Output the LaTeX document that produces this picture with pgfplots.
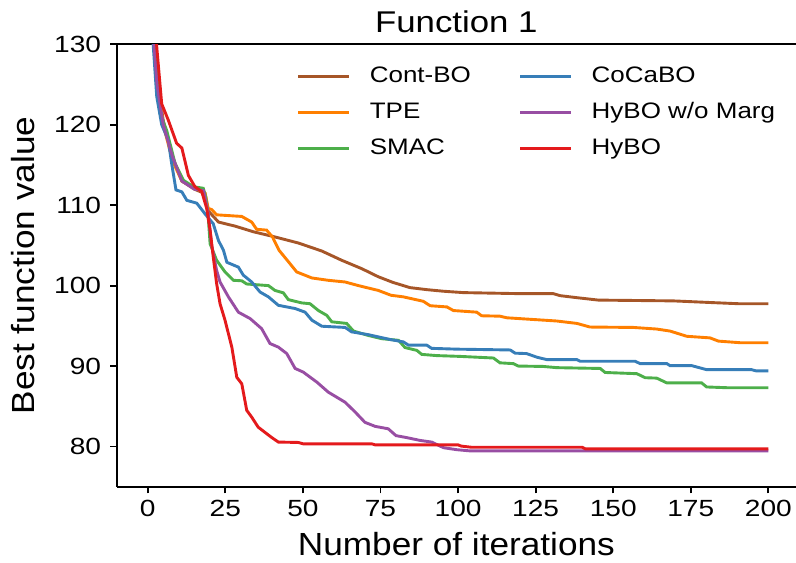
\documentclass[border=0pt]{standalone}
\usepackage{fontspec}
\setmainfont{Liberation Sans}[FakeStretch=1.16]
\newfontfamily\tickfont{Liberation Sans}[FakeStretch=1.2]
\newfontfamily\labelfont{Liberation Sans}[FakeStretch=1.1]
\usepackage{pgfplots}
\pgfplotsset{compat=1.18}
\definecolor{cbrown}{HTML}{A65628}
\definecolor{corange}{HTML}{FF7F00}
\definecolor{cgreen}{HTML}{4DAF4A}
\definecolor{cblue}{HTML}{377EB8}
\definecolor{cpurple}{HTML}{984EA3}
\definecolor{cred}{HTML}{E41A1C}

\begin{document}
\begin{tikzpicture}
\begin{axis}[
  scale only axis,
  width=339.65pt, height=221.2pt,
  xmin=-10, xmax=208.9,
  ymin=75, ymax=130,
  xtick={0,25,...,200},
  ytick={80,90,...,130},
  axis x line*=box, axis y line*=left,
  xtick pos=left, ytick pos=left,
  tick align=outside,
  major tick length=3.3pt,
  axis line style={line width=0.9pt},
  tick style={line width=0.9pt, black},
  /pgf/number format/assume math mode=true,
  ticklabel style={font=\tickfont\fontsize{11.7}{13}\selectfont},
  yticklabel style={xshift=-1pt},
  title={Function 1},
  title style={font=\fontsize{15}{17}\selectfont, at={(axis description cs:0.5,1)}, anchor=base, yshift=0.15pt},
  xlabel={Number of iterations},
  xlabel style={font=\labelfont\fontsize{16}{18}\selectfont, at={(axis description cs:0.5,0)}, anchor=base, yshift=-34.4pt},
  ylabel={Best function value},
  ylabel style={font=\labelfont\fontsize{16}{18}\selectfont, at={(axis description cs:-0.1372,0.5)}, anchor=center},
  every axis plot/.append style={line width=1.45pt},
  legend columns=2,
  legend cell align=left,
  legend image code/.code={\draw[#1] (0pt,0pt) -- (25.5pt,0pt);},
  legend style={draw=none, fill=none, inner sep=0pt,
    at={(axis description cs:0,1)}, anchor=north west, xshift=89.9pt, yshift=-9.85pt,
    font=\fontsize{11.2}{13}\selectfont, column sep=9.5pt, row sep=6pt,
    nodes={inner sep=0pt, text height=9pt, text depth=3pt}},
]
\addplot[cbrown, forget plot] coordinates {
(1,135) (3,126) (5,120.5) (8,116) (11,113) (15,112) (18,111.5) (19.5,109.3)
(22.8,107.9) (28.1,107.4) (34,106.7) (41,106.05) (48.5,105.3) (56.1,104.3)
(62.5,103.15) (69,102.1) (74.3,101.1) (79,100.4) (84.5,99.75) (89.9,99.5)
(95.3,99.3) (101.7,99.13) (120,99.0) (130.7,99.0) (132.9,98.75) (138.3,98.5)
(145.2,98.2) (169.4,98.1) (181.2,97.9) (190.3,97.75) (200,97.75)};
\addplot[corange, forget plot] coordinates {
(1,135) (3,126) (5,120) (8,115.5) (11,113) (15,112.2) (18.5,111.5) (19.5,109.6)
(20.6,109.46) (22.2,108.8) (30.3,108.6) (33.5,107.9) (35.1,107.0) (38.3,106.9)
(40.2,106.05) (42.3,104.4) (45.9,102.7) (48,101.7) (52.9,100.95) (58.2,100.66)
(63.6,100.45) (67.9,100.0) (74.3,99.4) (78.4,98.8) (82.4,98.6) (88.8,98.05)
(91,97.5) (96.4,97.35) (98.5,96.9) (106,96.7) (107.6,96.25) (113.5,96.2)
(115.7,96.0) (131.8,95.6) (138.3,95.3) (142.5,94.85) (156.5,94.8) (164,94.6)
(168.3,94.35) (173.7,93.7) (181.2,93.5) (183.9,93.1) (190.9,92.9) (200,92.9)};
\addplot[cgreen, forget plot] coordinates {
(1,134) (2.5,128) (4,121.4) (6.1,119.3) (8.8,115.2) (11.5,113.1) (14.7,112.3)
(17.9,112.1) (18.7,111.0) (19.5,108.5) (20.1,105.2) (22.2,103.15) (24.9,101.7)
(27.6,100.66) (30.3,100.6) (31.9,100.2) (38.9,100.0) (41,99.4) (43.7,99.1)
(45.3,98.26) (49.6,97.85) (52.3,97.75) (55,96.9) (57.7,96.3) (59.3,95.5)
(64.1,95.3) (66.3,94.35) (71.1,93.8) (75.4,93.4) (80.8,93.2) (82.9,92.3)
(86.7,91.95) (88.3,91.45) (93.1,91.3) (100.6,91.2) (111.4,91.0) (113.5,90.4)
(117.8,90.3) (119.4,90.0) (127.5,89.95) (131.8,89.8) (145.8,89.7) (147.4,89.2)
(157.6,89.05) (160.3,88.55) (164,88.5) (167.3,87.9) (178.5,87.9) (180.1,87.4)
(187.1,87.3) (200,87.3)};
\addplot[cblue, forget plot] coordinates {
(1,134) (1.8,129.7) (2.9,123.5) (4.5,120) (6.6,118.1) (7.7,115.2) (9.1,111.9)
(11,111.65) (12.6,110.6) (15.8,110.25) (18.5,108.9) (21.1,107.7) (22.8,105.6)
(24.4,104.4) (25.5,102.9) (29.2,102.3) (30.8,101.3) (33.5,100.45) (36.2,99.2)
(38.9,98.6) (42.1,97.55) (47.5,97.15) (50.7,96.7) (52.9,95.7) (56.1,94.95)
(63.6,94.8) (65.7,94.25) (71.1,93.9) (78.1,93.3) (82.4,93.0) (84,92.6)
(89.9,92.6) (91.5,92.2) (99.6,92.1) (116.8,92.0) (118.4,91.6) (122.1,91.55)
(125.4,91.1) (128.6,90.8) (138.3,90.8) (139.3,90.6) (157,90.6) (158.7,90.3)
(167.3,90.3) (168.3,90.05) (175.3,90.05) (180.1,89.55) (194.6,89.55) (196,89.4)
(200,89.4)};
\addplot[cpurple, forget plot] coordinates {
(1,135) (3,125) (5,120) (8,116) (11,113) (15,112) (18,111.8) (19.5,109)
(20.6,105) (22.2,101.9) (23.3,100.45) (26,98.6) (29.2,96.7) (33,95.9)
(36.7,94.65) (39.4,92.8) (42.1,92.35) (44.8,91.55) (47.5,89.7) (50.1,89.25)
(54.5,88.0) (58.2,86.75) (63.6,85.5) (66.8,84.3) (70,83.0) (73.3,82.5)
(77.5,82.2) (80,81.35) (83.5,81.1) (87.8,80.75) (91.5,80.55) (95.3,79.85)
(99.6,79.6) (103.9,79.45) (200,79.45)};
\addplot[cred, forget plot] coordinates {
(2,134) (2.9,129.7) (4.5,122.6) (6.6,120.6) (9.3,117.7) (11,117.1) (13.1,113.7)
(15.2,112.3) (17.4,111.7) (19,109.6) (20.1,106.9) (21.1,103.6) (22.2,100.25)
(23.3,97.75) (24.9,95.7) (27.1,92.35) (28.7,88.6) (30.3,87.8) (31.9,84.5)
(33.5,83.65) (35.6,82.4) (38.3,81.6) (40,81.1) (42.1,80.55) (48.5,80.5)
(50.1,80.33) (72.2,80.33) (73.3,80.2) (100,80.2) (101,80.05) (104.4,79.9)
(140,79.9) (141,79.7) (200,79.7)};
\addlegendimage{cbrown, line width=1.45pt}\addlegendentry{\makebox[65pt][l]{Cont-BO}}
\addlegendimage{cblue, line width=1.45pt}\addlegendentry{CoCaBO}
\addlegendimage{corange, line width=1.45pt}\addlegendentry{\makebox[65pt][l]{TPE}}
\addlegendimage{cpurple, line width=1.45pt}\addlegendentry{HyBO w/o Marg}
\addlegendimage{cgreen, line width=1.45pt}\addlegendentry{\makebox[65pt][l]{SMAC}}
\addlegendimage{cred, line width=1.45pt}\addlegendentry{HyBO}
\coordinate (bbsw) at (rel axis cs:0,0);
\coordinate (bbne) at (rel axis cs:1,1);
\end{axis}
\pgfresetboundingbox
\path[use as bounding box] ([xshift=-58.35pt,yshift=-37.65pt]bbsw) rectangle ([yshift=22.15pt]bbne);
\end{tikzpicture}
\end{document}
